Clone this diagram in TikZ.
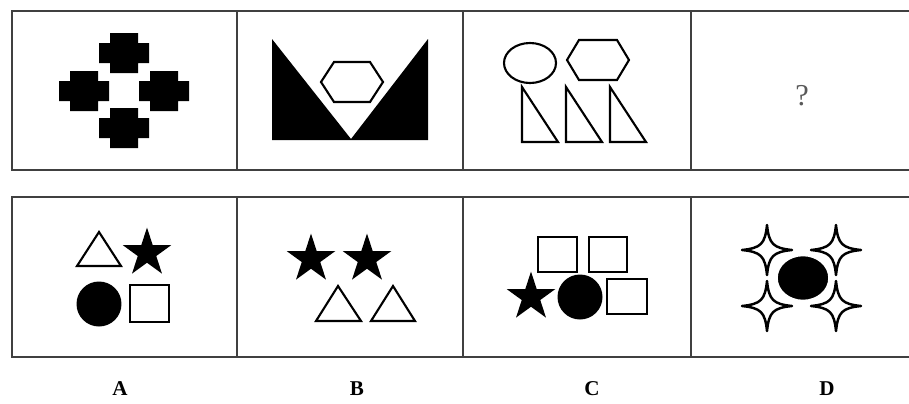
\documentclass[tikz,border=0pt]{standalone}
\usepackage{fontspec}
\setmainfont{Liberation Serif}
\usepackage{tikz}
\usetikzlibrary{shapes.geometric}

\begin{document}
\begin{tikzpicture}[x=0.02cm,y=-0.02cm,
frame/.style={draw=black!75,line width=1.3pt},
outl/.style={draw=black,line width=1.2pt},
fstar/.style={star,star points=5,star point ratio=2.618,fill=black,inner sep=0pt,minimum size=1.02cm},
dot/.style={circle,fill=black,inner sep=0pt,minimum size=0.9cm}]
\useasboundingbox(0,0)rectangle(909,403);
\fill[white](0,0)rectangle(909,403);
% frames
\draw[frame](12,11)rectangle(914,170)
(237,11)--(237,170)(463,11)--(463,170)(691,11)--(691,170);
\draw[frame](12,197)rectangle(914,357)
(237,197)--(237,357)(463,197)--(463,357)(691,197)--(691,357);
% row 1
\foreach \cx/\cy in {124/53,84/91,164/91,124/128}
\fill(\cx-25,\cy-10)rectangle(\cx+25,\cy+10)
(\cx-14,\cy-20)rectangle(\cx+14,\cy+20);
\fill(272,39)--(351,139)--(428,39)--(428,140)--(272,140)--cycle;
\draw[outl](321,82)--(334,62)--(370,62)--(383,82)--(370,102)--(334,102)--cycle;
\draw[outl](530,63)ellipse[x radius=26,y radius=20];
\draw[outl](567,60)--(579,40)--(617,40)--(629,60)--(617,80)--(579,80)--cycle;
\foreach \lx in {522,566,610}
\draw[outl,line join=miter](\lx,87)--(\lx+36,142)--(\lx,142)--cycle;
\node[text=black!65,font=\LARGE](q)at(802,96){?};
% row 2
\draw[outl](77,266)--(99,232)--(121,266)--cycle;
\node[fstar](a1)at(147,253){};
\node[dot](a2)at(99,304){};
\draw[outl](130,285)rectangle(169,322);
\node[fstar](b1)at(311,259){};
\node[fstar](b2)at(367,259){};
\draw[outl](316,321)--(338,286)--(361,321)--cycle;
\draw[outl](371,321)--(393,286)--(415,321)--cycle;
\draw[outl](538,237)rectangle(577,272);
\draw[outl](589,237)rectangle(627,272);
\node[fstar](c1)at(531,297){};
\node[dot](c2)at(580,297){};
\draw[outl](607,279)rectangle(647,314);
\foreach \cx/\cy in {767/250,836/250,767/306,836/306}
\draw[outl,line width=1.4pt,line join=round,fill=white](\cx+25,\cy)..controls(\cx+6,\cy-2)and(\cx+2,\cy-6)..(\cx,\cy-25)
..controls(\cx-2,\cy-6)and(\cx-6,\cy-2)..(\cx-25,\cy)
..controls(\cx-6,\cy+2)and(\cx-2,\cy+6)..(\cx,\cy+25)
..controls(\cx+2,\cy+6)and(\cx+6,\cy+2)..(\cx+25,\cy)--cycle;
\node[dot,draw=white,line width=2pt,ellipse,minimum width=1.08cm,minimum height=0.94cm](d1)at(803,278){};
% labels
\node[font=\large\bfseries](la)at(120,389){A};
\node[font=\large\bfseries](lb)at(357,389){B};
\node[font=\large\bfseries](lc)at(592,389){C};
\node[font=\large\bfseries](ld)at(827,389){D};
\end{tikzpicture}
\end{document}
